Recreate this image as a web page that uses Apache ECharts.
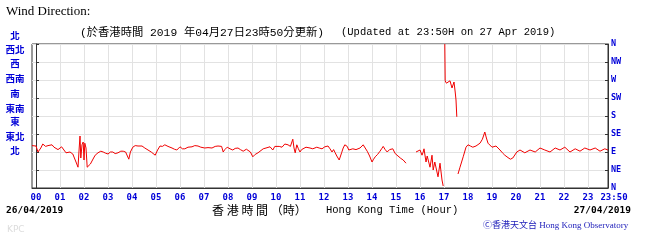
<!DOCTYPE html>
<html><head><meta charset="utf-8">
<script src="https://cdn.jsdelivr.net/npm/echarts@6/dist/echarts.min.js"></script>
<style>html,body{margin:0;padding:0;background:#fff}#c{width:656px;height:243px}</style>
</head><body><div id="c"></div>
<script>
// time in minutes since 00:00 on 27/04/2019 (axis from -10 to 23:50)
const times = [-10,0,5,12,17,24,30,40,45,50,55,60,64,68,75,80,85,92,96,100,105,108,110,112,115,118,120,122,125,128,132,136,140,144,148,155,162,168,174,180,186,192,198,205,212,218,224,228,232,236,242,248,255,265,272,280,288,298,304,310,316,322,330,340,346,352,360,366,372,380,390,397,405,412,422,430,440,448,455,460,464,468,472,478,485,492,498,505,511,518,522,526,530,536,542,548,555,560,568,575,585,588,592,597,602,608,615,622,626,630,636,640,642,645,648,652,656,660,664,668,675,685,692,702,708,715,722,730,735,740,744,748,752,758,764,768,772,778,782,786,792,800,810,818,823,828,834,840,844,848,854,860,864,868,873,878,884,888,892,898,905,912,918,925,935,
950,955,960,965,968,970,975,978,980,985,990,993,997,1000,1005,1010,1015,1018,1019,
1022,1023,1026,1030,1035,1040,1045,1048,1050,1052,1053,
1055,1060,1064,1068,1075,1080,1086,1092,1100,1110,1116,1122,1126,1130,1140,1150,1160,1166,1172,1180,1186,1192,1202,1210,1222,1235,1248,1260,1272,1285,1298,1310,1322,1335,1348,1360,1372,1385,1398,1410,1422,1430];
const dirs = [106,105,90,100,110,104,106,108,102,100,96,95,103,100,88,92,90,85,75,65,52,100,130,75,108,115,70,112,100,52,55,60,65,75,82,88,92,90,87,85,90,90,86,88,92,92,90,88,72,90,102,106,105,105,100,95,90,82,95,105,104,108,104,100,97,95,103,98,98,102,103,106,105,102,100,101,100,104,105,108,104,90,96,102,98,95,99,100,96,92,92,97,100,90,78,84,88,93,98,100,103,100,95,104,108,104,102,110,105,108,104,100,122,100,88,108,98,90,96,100,102,100,98,102,100,98,103,105,98,90,96,88,80,70,88,100,108,104,95,97,98,96,100,108,100,92,80,65,72,78,84,92,98,104,96,90,96,100,98,86,80,74,70,62,null,
90,92,95,82,90,98,65,80,85,52,82,45,65,70,28,62,20,5,null,
360,268,262,258,268,250,265,240,220,178,null,
35,52,65,78,102,108,105,102,105,112,122,140,125,112,102,105,95,88,82,76,72,75,90,95,88,95,90,100,95,90,100,95,102,90,98,92,100,95,100,92,98,95];
const hourTicks = [0,1,2,3,4,5,6,7,8,9,10,11,12,13,14,15,16,17,18,19,20,21,22,23];
const hourLabels = ['00','01','02','03','04','05','06','07','08','09','10','11','12','13','14','15','16','17','18','19','20','21','22','23'];
const endLabel = '23:50';
const endMinute = 1430;
const dirLabelsEn = ['N','NE','E','SE','S','SW','W','NW','N'];
const dirLabelsZh = ['北','西北','西','西南','南','東南','東','東北','北'];

const BLUE = '#0000d8';
const data = times.map((t,i)=>[t,dirs[i]]);
const labelMinutes = hourTicks.map(h=>h*60).concat([endMinute]);
const chart = echarts.init(document.getElementById('c'), null, {renderer:'canvas'});

const zhY = [35,49,63,78,93,108,121,136,150];
const graphics = [
  {type:'text', left:6, top:5, style:{text:'Wind Direction:', font:'13px "Liberation Serif"', fill:'#000'}},
  {type:'text', left:80, top:27, style:{text:'(於香港時間 2019 年04月27日23時50分更新)', font:'11.3px "Liberation Mono", "Noto Sans CJK TC"', fill:'#000'}},
  {type:'text', left:341, top:27, style:{text:'(Updated at 23:50H on 27 Apr 2019)', font:'10.5px "Liberation Mono"', fill:'#000'}},
  {type:'text', left:6, top:206, style:{text:'26/04/2019', font:'bold 9.5px "DejaVu Sans Mono"', fill:'#000'}},
  {type:'text', right:25, top:206, style:{text:'27/04/2019', font:'bold 9.5px "DejaVu Sans Mono"', fill:'#000'}},
  {type:'text', left:212, top:204, style:{text:'香 港 時 間 （時）', font:'12px "Noto Sans CJK TC"', fill:'#000'}},
  {type:'text', left:326, top:205, style:{text:'Hong Kong Time (Hour)', font:'10.5px "Liberation Mono"', fill:'#000'}},
  {type:'text', left:483, top:221, style:{text:'Ⓒ香港天文台 Hong Kong Observatory', font:'9px "Liberation Serif", "Noto Sans CJK TC"', fill:'#2222bb'}},
  {type:'text', left:7, top:225, style:{text:'KPC', font:'9px "DejaVu Sans"', fill:'#dcdcdc'}}
];
dirLabelsZh.forEach((t,i)=>{
  graphics.push({type:'text', x:15, y:zhY[i], style:{text:t, font:'bold 9.5px "Noto Sans CJK TC"', fill:BLUE, align:'center', verticalAlign:'middle'}});
});

chart.setOption({
  animation:false,
  grid:{left:32, top:44, width:576, height:144, show:true, borderColor:'#333', borderWidth:1},
  graphic:graphics,
  xAxis:{type:'value', min:-10, max:endMinute,
    axisLine:{show:true, lineStyle:{color:'#333'}},
    axisTick:{show:true, inside:true, length:4, customValues:hourTicks.map(h=>h*60), lineStyle:{color:'#333'}},
    axisLabel:{customValues:labelMinutes, margin:5, color:BLUE, fontWeight:'bold', fontSize:9, fontFamily:'DejaVu Sans Mono',
      formatter:v=> v===endMinute ? '{e|'+endLabel+'}' : hourLabels[Math.round(v/60)],
      rich:{e:{padding:[0,0,0,12], color:BLUE, fontWeight:'bold', fontSize:9, fontFamily:'DejaVu Sans Mono'}}},
    splitLine:{show:false}},
  yAxis:[
    {type:'value', min:0, max:360, interval:45, position:'left',
      axisLine:{show:true, lineStyle:{color:'#333'}},
      axisTick:{show:true, inside:true, length:3, lineStyle:{color:'#333'}},
      axisLabel:{show:false},
      splitLine:{show:true, lineStyle:{color:'#e2e2e2'}}},
    {type:'value', min:0, max:360, interval:45, position:'right',
      axisLine:{show:true, lineStyle:{color:'#333'}},
      axisTick:{show:true, inside:true, length:3, lineStyle:{color:'#333'}},
      axisLabel:{margin:3, color:BLUE, fontWeight:'bold', fontSize:8.5, fontFamily:'DejaVu Sans Mono',
        formatter:v=>dirLabelsEn[Math.round(v/45)]},
      splitLine:{show:false}}
  ],
  series:[
    {type:'line', data:[[0,null]], z:1, silent:true, showSymbol:false,
      markLine:{silent:true, symbol:'none', label:{show:false}, animation:false, z:1,
        lineStyle:{color:'#e2e2e2', width:1, type:'solid'},
        data:hourTicks.filter(h=>h>0).map(h=>({xAxis:h*60}))}},
    {type:'line', data:data, z:3, showSymbol:false, connectNulls:false,
      lineStyle:{color:'#f00000', width:1}, itemStyle:{color:'#f00000'}}
  ]
});
</script></body></html>
